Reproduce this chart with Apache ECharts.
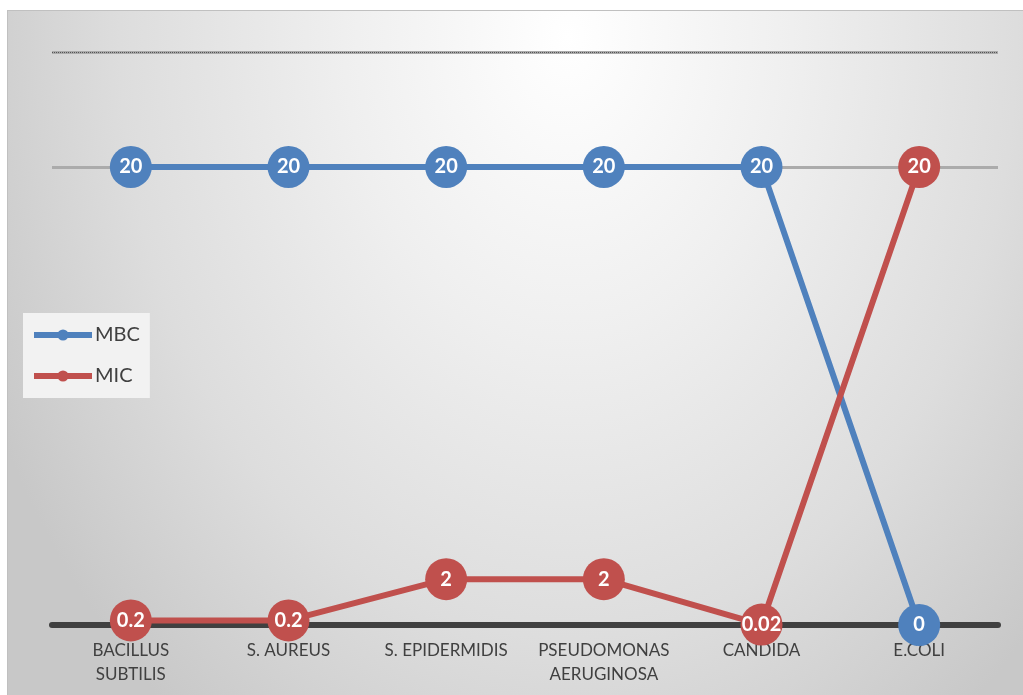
<!DOCTYPE html>
<html>
<head>
<meta charset="utf-8">
<script src="https://cdn.jsdelivr.net/npm/echarts@6/dist/echarts.min.js"></script>
<style>
html,body{margin:0;padding:0;background:#ffffff;width:1023px;height:695px;overflow:hidden;}
#chart{position:absolute;left:7px;top:10px;width:1016px;height:685px;
  background:radial-gradient(ellipse 640px 860px at 560px 25px, #ffffff 0%, #efefef 35%, #dddddd 70%, #c8c8c8 100%);
  border-top:1px solid #c0c0c0;border-left:1px solid #c0c0c0;box-sizing:border-box;}
</style>
</head>
<body>
<div id="chart"></div>
<script>
const categories = ['BACILLUS\nSUBTILIS', 'S. AUREUS', 'S. EPIDERMIDIS', 'PSEUDOMONAS\nAERUGINOSA', 'CANDIDA', 'E.COLI'];
const mbcValues = [20, 20, 20, 20, 20, 0];
const micValues = [0.2, 0.2, 2, 2, 0.02, 20];
const yMin = 0, yMax = 25, yInterval = 20;

const chart = echarts.init(document.getElementById('chart'), null, {renderer: 'canvas'});
const labelStyle = {
  show: true, position: 'inside', color: '#ffffff', fontSize: 20, fontWeight: 'bold',
  fontFamily: 'Lato, "Open Sans", sans-serif'
};
chart.setOption({
  backgroundColor: 'transparent',
  animation: false,
  grid: {left: 44, right: 25, top: 41.5, bottom: 70, containLabel: false},
  legend: {
    orient: 'vertical', left: 15, top: 302,
    backgroundColor: '#f2f2f2',
    padding: [12, 10, 12, 8],
    itemWidth: 58, itemHeight: 14, itemGap: 21,
    lineStyle: {width: 6},
    textStyle: {fontSize: 20, color: '#404040', fontFamily: 'Lato, "Open Sans", sans-serif', padding: [0, 0, 0, -2], lineHeight: 20},
    data: ['MBC', 'MIC']
  },
  xAxis: {
    type: 'category', data: categories, boundaryGap: true,
    axisLine: {show: true, lineStyle: {color: '#404040', width: 6}},
    axisTick: {show: false},
    axisLabel: {color: '#404040', fontSize: 17, lineHeight: 24, margin: 14,
      fontFamily: 'Lato, "Open Sans", sans-serif', interval: 0}
  },
  yAxis: {
    type: 'value', min: yMin, max: yMax, interval: yInterval,
    axisLine: {show: false}, axisTick: {show: false}, axisLabel: {show: false},
    splitLine: {show: true, lineStyle: {color: '#ababab', width: 3}}
  },
  series: [
    {
      name: 'MBC', type: 'line', data: mbcValues,
      symbol: 'circle', symbolSize: 42,
      lineStyle: {color: '#4f81bd', width: 6},
      itemStyle: {color: '#4f81bd'},
      label: labelStyle,
      markLine: {
        silent: true, symbol: 'none', label: {show: false},
        lineStyle: {color: '#555555', type: 'dotted', width: 1},
        data: [{yAxis: yMax}]
      },
      z: 3
    },
    {
      name: 'MIC', type: 'line', data: micValues,
      symbol: 'circle', symbolSize: 42,
      lineStyle: {color: '#c0504d', width: 6},
      itemStyle: {color: '#c0504d'},
      label: labelStyle,
      z: 4
    }
  ]
});
</script>
</body>
</html>
